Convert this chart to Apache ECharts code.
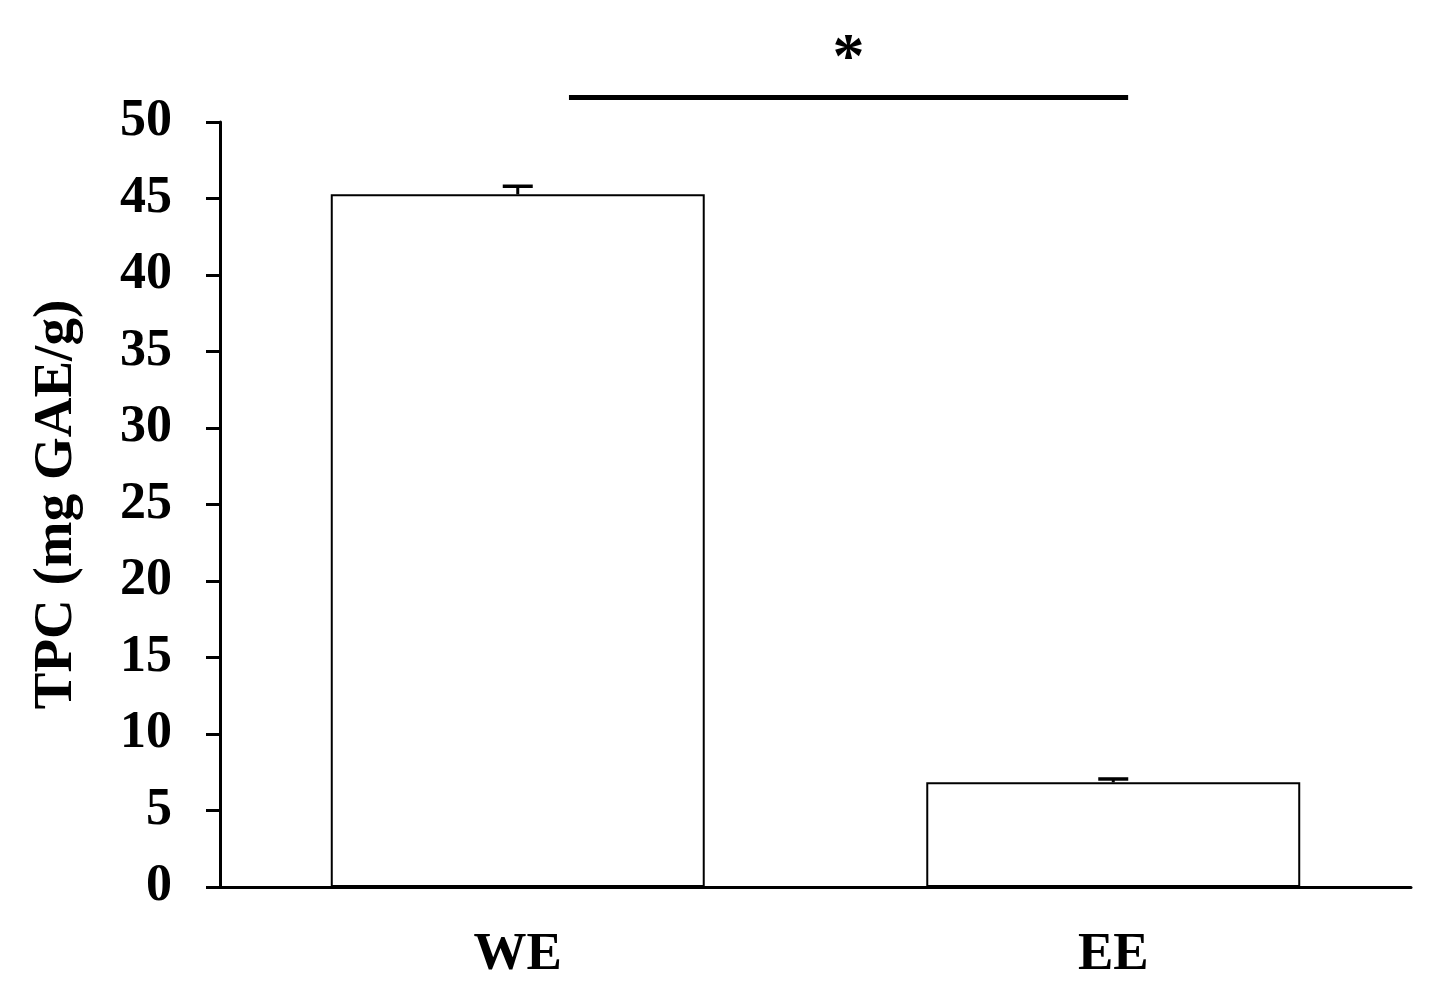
<!DOCTYPE html>
<html>
<head>
<meta charset="utf-8">
<script src="https://cdn.jsdelivr.net/npm/echarts@6/dist/echarts.min.js"></script>
<style>
    html, body { margin: 0; padding: 0; background: #fff; }
    #chart_tpc { width: 1451px; height: 1008px; }
</style>
</head>
<body>
<div id="chart_tpc"></div>
<script>
// 数据
var categories = ["WE", "EE"];
var tpcValues = [45.27, 6.84];
var tpcErrors = [0.53, 0.22];
var yTicks = { min: 0, max: 50, step: 5 };
// 显著性标记: 从 WE 到 EE
var sigFrom = [0, 0.086];   // [category index, offset in category widths]
var sigTo = [1, 0.025];
var sigLevel = 51.6;
var sigLabel = "*";
var sigLabelLevel = 54.0;

var fontFamily = "'Liberation Serif', 'Times New Roman', serif";

var myChart = echarts.init(document.getElementById("chart_tpc"));

var option = {
    animation: false,
    backgroundColor: "#fff",
    grid: {
        left: 220,
        right: 40,
        top: 122,
        bottom: 121,
        containLabel: false
    },
    xAxis: {
        type: "category",
        data: categories,
        axisLine: { show: true, lineStyle: { color: "#000", width: 3 } },
        axisTick: { show: false },
        axisLabel: {
            color: "#000",
            fontFamily: fontFamily,
            fontWeight: "bold",
            fontSize: 53,
            margin: 42
        }
    },
    yAxis: {
        type: "value",
        name: "TPC (mg GAE/g)",
        nameLocation: "middle",
        nameGap: 136,
        nameTextStyle: {
            color: "#000",
            fontFamily: fontFamily,
            fontWeight: "bold",
            fontSize: 55
        },
        min: yTicks.min,
        max: yTicks.max,
        interval: yTicks.step,
        splitLine: { show: false },
        axisLine: { show: true, lineStyle: { color: "#000", width: 3 } },
        axisTick: { show: true, inside: false, length: 14, lineStyle: { color: "#000", width: 3 } },
        axisLabel: {
            color: "#000",
            fontFamily: fontFamily,
            fontWeight: "bold",
            fontSize: 52,
            margin: 48
        }
    },
    series: [
        {
            name: "TPC",
            type: "bar",
            data: tpcValues,
            barWidth: "62.8%",
            itemStyle: { color: "#fff", borderColor: "#000", borderWidth: 2 },
            z: 2
        },
        {
            // 误差线 (仅上方)
            name: "error",
            type: "custom",
            z: 3,
            data: tpcValues.map(function (v, i) { return [i, v, v + tpcErrors[i]]; }),
            renderItem: function (params, api) {
                var low = api.coord([api.value(0), api.value(1)]);
                var high = api.coord([api.value(0), api.value(2)]);
                var half = 15;
                return {
                    type: "group",
                    children: [
                        { type: "line", shape: { x1: low[0], y1: low[1], x2: high[0], y2: high[1] }, style: { stroke: "#000", lineWidth: 3 } },
                        { type: "line", shape: { x1: high[0] - half, y1: high[1], x2: high[0] + half, y2: high[1] }, style: { stroke: "#000", lineWidth: 3.5 } }
                    ]
                };
            }
        },
        {
            // 显著性标记
            name: "sig",
            type: "custom",
            z: 4,
            clip: false,
            data: [[sigFrom[0], sigTo[0], sigLevel]],
            renderItem: function (params, api) {
                var band = api.size([1, 0])[0];
                var a = api.coord([api.value(0), api.value(2)]);
                var b = api.coord([api.value(1), api.value(2)]);
                var x1 = a[0] + sigFrom[1] * band;
                var x2 = b[0] + sigTo[1] * band;
                var t = api.coord([api.value(0), sigLabelLevel]);
                return {
                    type: "group",
                    children: [
                        { type: "line", shape: { x1: x1, y1: a[1], x2: x2, y2: b[1] }, style: { stroke: "#000", lineWidth: 5 } },
                        {
                            type: "text",
                            x: (x1 + x2) / 2,
                            y: t[1],
                            style: {
                                text: sigLabel,
                                fill: "#000",
                                font: "bold 64px " + fontFamily,
                                align: "center",
                                verticalAlign: "middle"
                            }
                        }
                    ]
                };
            }
        }
    ]
};

myChart.setOption(option);
window.addEventListener("resize", function () {
    myChart.resize();
});
</script>
</body>
</html>
